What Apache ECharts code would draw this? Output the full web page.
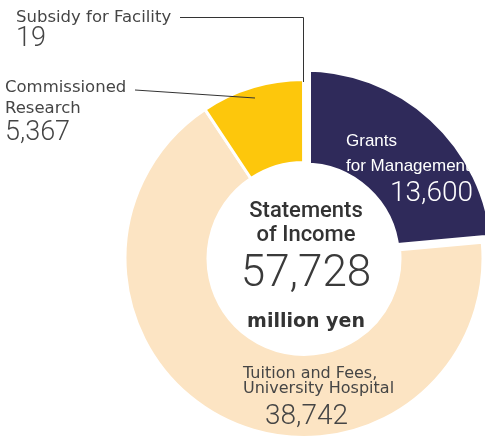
<!DOCTYPE html>
<html><head><meta charset="utf-8">
<script src="https://cdn.jsdelivr.net/npm/echarts@6/dist/echarts.min.js"></script>
<style>html,body{margin:0;padding:0;background:#fff}#c{width:485px;height:438px}</style>
</head><body><div id="c"></div>
<script>
const categories = ['Grants for Management', 'Tuition and Fees, University Hospital', 'Commissioned Research', 'Subsidy for Facility'];
const labelLines = [['Grants', 'for Management'], ['Tuition and Fees,', 'University Hospital'], ['Commissioned', 'Research'], ['Subsidy for Facility']];
const values = [13600, 38742, 5367, 19];
const colors = ['#2f2a5a', '#fce4c3', '#fdc70c', '#d9d9d9'];
const centerTitle = ['Statements', 'of Income'];
const unitLabel = 'million yen';

const total = values.reduce((a, b) => a + b, 0);
const fmt = v => v.toLocaleString('en-US');

const CX = 304, CY = 258.5;
const NUM_FONT = 'Roboto';

const dataA = values.map((v, i) => ({
  value: v, name: categories[i],
  itemStyle: i === 0 ? { color: colors[0], borderColor: '#fff', borderWidth: 14 } : { color: 'transparent', borderWidth: 0 }
}));
const dataB = values.map((v, i) => ({
  value: v, name: categories[i],
  itemStyle: i === 0 ? { color: 'transparent', borderWidth: 0 } : { color: colors[i], borderColor: '#fff', borderWidth: 3 }
}));

const labelPos = [[346, 129.5], [243, 366.5], [5, 77], [16, 7]];
const nameKey = ['gn', 'tn', 'on', 'on'];
const valKey = ['gv', 'tv', 'cv', 'sv'];

const chart = echarts.init(document.getElementById('c'), null, { renderer: 'canvas' });
chart.setOption({
  animation: false,
  series: [
    {
      type: 'pie', z: 2, silent: true,
      center: [CX, CY], radius: [89, 194],
      startAngle: 90, clockwise: true, avoidLabelOverlap: false,
      label: { show: false }, labelLine: { show: false },
      emphasis: { disabled: true },
      data: dataA
    },
    {
      type: 'pie', z: 3, silent: true,
      center: [CX, CY], radius: [96, 179],
      startAngle: 90, clockwise: true, avoidLabelOverlap: false,
      emphasis: { disabled: true },
      labelLine: { show: false },
      label: {
        show: true,
        formatter: p => {
          const i = p.dataIndex;
          const lines = labelLines[i].map(s => '{' + nameKey[i] + '|' + s + '}');
          lines.push('{' + valKey[i] + '|' + fmt(values[i]) + '}');
          return lines.join('\n');
        },
        rich: {
          gn: { color: '#ffffff', fontFamily: 'Liberation Sans', fontSize: 17, lineHeight: 24.5 },
          gv: { color: '#ffffff', fontFamily: NUM_FONT, fontWeight: 300, fontSize: 28, lineHeight: 31, padding: [0, 0, 0, 44] },
          tn: { color: '#454545', fontFamily: 'DejaVu Sans', fontSize: 16, lineHeight: 15 },
          tv: { color: '#454545', fontFamily: NUM_FONT, fontWeight: 300, fontSize: 28, lineHeight: 41, padding: [0, 0, 0, 22] },
          on: { color: '#454545', fontFamily: 'DejaVu Sans', fontSize: 16.5, lineHeight: 21 },
          cv: { color: '#454545', fontFamily: NUM_FONT, fontWeight: 300, fontSize: 27, lineHeight: 29 },
          sv: { color: '#454545', fontFamily: NUM_FONT, fontWeight: 300, fontSize: 27, lineHeight: 23 }
        }
      },
      labelLayout: p => {
        const pos = labelPos[p.dataIndex];
        return { x: pos[0], y: pos[1], align: 'left', verticalAlign: 'top' };
      },
      data: dataB
    }
  ],
  graphic: [
    { type: 'text', z: 100, x: CX + 2, y: 211, style: { text: centerTitle[0], fill: '#333', fontFamily: 'Roboto', fontWeight: 500, fontSize: 22, align: 'center', verticalAlign: 'middle' } },
    { type: 'text', z: 100, x: CX + 2, y: 235.5, style: { text: centerTitle[1], fill: '#333', fontFamily: 'Roboto', fontWeight: 500, fontSize: 22, align: 'center', verticalAlign: 'middle' } },
    { type: 'text', z: 100, x: CX + 2, y: 275, style: { text: fmt(total), fill: '#3a3a3a', fontFamily: NUM_FONT, fontWeight: 300, fontSize: 44, align: 'center', verticalAlign: 'middle' } },
    { type: 'text', z: 100, x: CX + 2, y: 322, style: { text: unitLabel, fill: '#333', fontFamily: 'DejaVu Sans', fontWeight: 'bold', fontSize: 19, align: 'center', verticalAlign: 'middle' } },
    { type: 'polyline', z: 100, shape: { points: [[180, 17.5], [303.5, 17.5], [303.5, 82]] }, style: { stroke: '#333', lineWidth: 1, fill: null } },
    { type: 'line', z: 100, shape: { x1: 135, y1: 90, x2: 255, y2: 98 }, style: { stroke: '#333', lineWidth: 1 } }
  ]
});
</script>
</body></html>
